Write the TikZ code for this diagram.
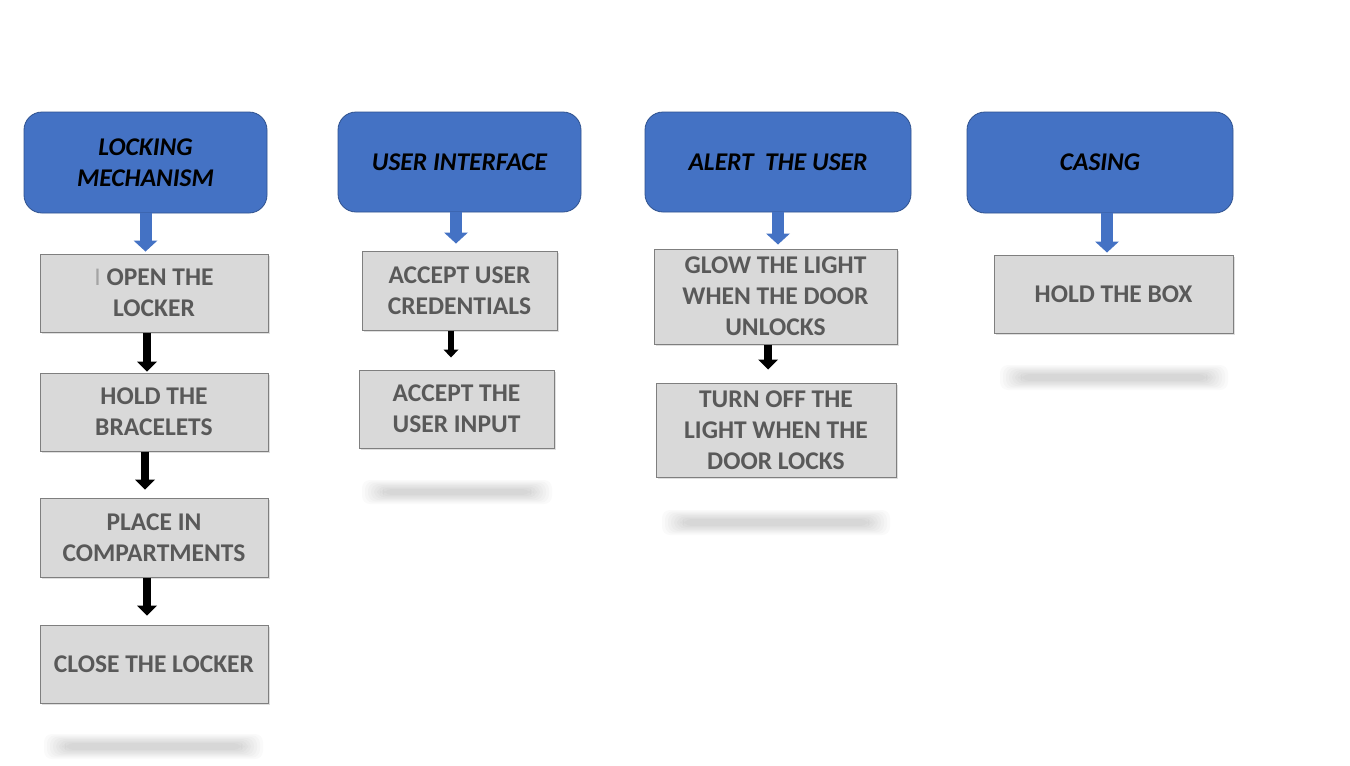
\documentclass[tikz,border=0pt]{standalone}
\usepackage{fontspec}
\setmainfont{Carlito}
\usetikzlibrary{arrows.meta,shadows}
\definecolor{hblue}{HTML}{4472C4}
\definecolor{hborder}{HTML}{2F528F}
\definecolor{bfill}{HTML}{D9D9D9}
\definecolor{bborder}{HTML}{7F7F7F}
\definecolor{btext}{HTML}{595959}
\tikzset{
  header/.style={draw=hborder, line width=0.8pt, fill=hblue, rounded corners=18pt, inner sep=0pt, align=center,
    font=\fontsize{25.5}{31}\selectfont\bfseries\itshape, text=black},
  stepbox/.style={draw=bborder, line width=1pt, fill=bfill, inner sep=0pt, align=center,
    font=\fontsize{25.5}{31}\selectfont\bfseries, text=btext,
    drop shadow={shadow xshift=2pt, shadow yshift=-2pt, opacity=0.25}},
  bluearrow/.style={hblue, line width=12pt, -{Triangle[width=24pt, length=11pt, line width=0pt]}},
  blackarrow/.style={black, line width=8pt, -{Triangle[width=20pt, length=10pt, line width=0pt]}},
  smallarrow/.style={black, line width=6pt, -{Triangle[width=15pt, length=8pt, line width=0pt]}},
  blurbar/.style={black, opacity=0.02, rounded corners=8pt}
}
\newcommand{\myblur}[4]{%
  \foreach \i in {0,...,7} {
    \fill[blurbar] ({#1-6+3*\i},{#2-3+1.3*\i}) rectangle ({#3+6-3*\i},{#4+3-1.3*\i});
  }%
}
\begin{document}
\begin{tikzpicture}[x=1pt,y=-1pt]
\fill[white] (0,0) rectangle (1350,766);
\useasboundingbox (0,0) rectangle (1350,766);

% headers
\node[header, minimum width=243pt, minimum height=101pt] (h1) at (145.5,162.5) {LOCKING\\MECHANISM};
\node[header, minimum width=243pt, minimum height=100pt] (h2) at (459.5,162) {USER INTERFACE};
\node[header, minimum width=266pt, minimum height=100pt] (h3) at (778,162) {ALERT\ \ THE USER};
\node[header, minimum width=266pt, minimum height=101pt] (h4) at (1100,162.5) {CASING};

% column 1
\node[stepbox, minimum width=228pt, minimum height=78pt] (b11) at (154,293) {{\mdseries\color{btext!55}I} OPEN THE\\LOCKER};
\node[stepbox, minimum width=228pt, minimum height=78pt] (b12) at (154,412) {HOLD THE\\BRACELETS};
\node[stepbox, minimum width=228pt, minimum height=79pt] (b13) at (154,537.5) {PLACE IN\\COMPARTMENTS};
\node[stepbox, minimum width=228pt, minimum height=78pt] (b14) at (154,664) {CLOSE THE LOCKER};

% column 2
\node[stepbox, minimum width=195pt, minimum height=79pt] (b21) at (459.5,290.5) {ACCEPT USER\\CREDENTIALS};
\node[stepbox, minimum width=195pt, minimum height=78pt] (b22) at (456.5,409) {ACCEPT THE\\USER INPUT};

% column 3
\node[stepbox, minimum width=243pt, minimum height=95pt] (b31) at (775.5,296.5) {GLOW THE LIGHT\\WHEN THE DOOR\\UNLOCKS};
\node[stepbox, minimum width=240pt, minimum height=94pt] (b32) at (776,430) {TURN OFF THE\\LIGHT WHEN THE\\DOOR LOCKS};

% column 4
\node[stepbox, minimum width=239pt, minimum height=78pt] (b41) at (1113.5,294) {HOLD THE BOX};

% blue arrows
\draw[bluearrow] (h1.south) -- ([yshift=2pt]h1.south |- b11.north);
\draw[bluearrow] ([xshift=-3.5pt]h2.south) -- ([xshift=-3.5pt,yshift=7pt]h2.south |- b21.north);
\draw[bluearrow] (h3.south) -- ([yshift=4pt]h3.south |- b31.north);
\draw[bluearrow] ([xshift=7pt]h4.south) -- ([xshift=7pt,yshift=2pt]h4.south |- b41.north);

% black arrows
\draw[blackarrow] ([xshift=-7pt]b11.south) -- ([xshift=-7pt,yshift=1pt]b12.north);
\draw[blackarrow] ([xshift=-9pt]b12.south) -- ([xshift=-9pt,yshift=8pt]b13.north);
\draw[blackarrow] ([xshift=-7pt]b13.south) -- ([xshift=-7pt,yshift=9pt]b14.north);
\draw[smallarrow] ([xshift=-8.5pt]b21.south) -- ([xshift=-5.5pt,yshift=12pt]b22.north);
\draw[blackarrow] ([xshift=-7.5pt]b31.south) -- ([xshift=-8pt,yshift=13pt]b32.north);

% blurred reflections
\myblur{50}{737}{257}{756}
\myblur{368}{483}{546}{501}
\myblur{668}{513}{884}{532}
\myblur{1006}{368}{1222}{387}
\end{tikzpicture}
\end{document}
